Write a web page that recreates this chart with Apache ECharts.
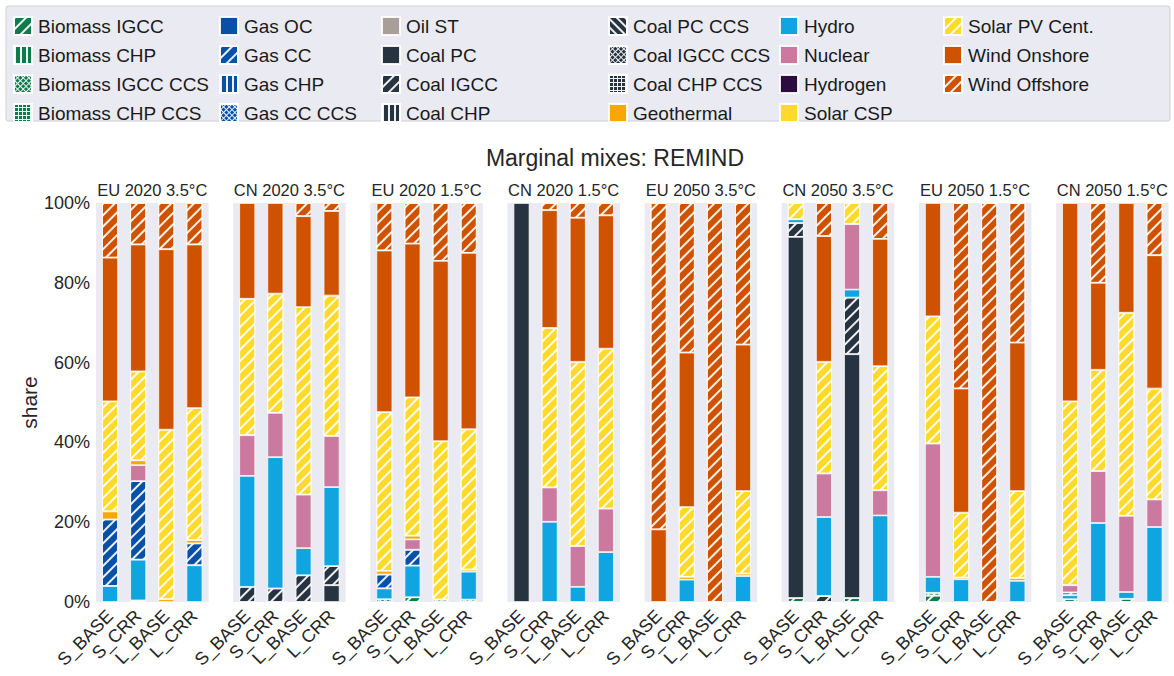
<!DOCTYPE html>
<html><head><meta charset="utf-8">
<script src="https://cdn.jsdelivr.net/npm/echarts@6/dist/echarts.min.js"></script>
<style>html,body{margin:0;padding:0;background:#fff}#c{width:1174px;height:676px}</style>
</head><body><div id="c"></div>
<script>
// ---------------- DATA ----------------
const panels = ['EU 2020 3.5°C','CN 2020 3.5°C','EU 2020 1.5°C','CN 2020 1.5°C','EU 2050 3.5°C','CN 2050 3.5°C','EU 2050 1.5°C','CN 2050 1.5°C'];
const scenarios = ['S_BASE','S_CRR','L_BASE','L_CRR'];
const yTicks = [0, 20, 40, 60, 80, 100];
const chartTitle = 'Marginal mixes: REMIND';
// shares in %, 4 values per panel (S_BASE, S_CRR, L_BASE, L_CRR), panels in the order above
const biomassIGCC    = [0,0,0,0,  0,0,0,0,  0,1.2,0,0,  0,0,0,0,  0,0,0,0,  1.0,0,1.0,0,  1.6,0,0,0,  0.7,0,0.8,0];
const biomassCHP     = [];
const biomassIGCCCCS = [0,0.4,0,0,  0,0,0,0,  0.7,0,0.6,0.6,  0,0,0,0,  0,0,0,0,  0,0,0,0,  0.7,0,0,0,  0,0,0,0];
const biomassCHPCCS  = [];
const coalPC         = [0,0,0,0,  0,0,0,4.2,  0,0,0,0,  100,0,0,0,  0,0,0,0,  90.5,0,61.1,0,  0,0,0,0,  0,0,0,0];
const coalIGCC       = [0,0,0,0,  3.8,3.4,6.7,4.8,  0,0,0,0,  0,0,0,0,  0,0,0,0,  3.5,1.5,14.2,0,  0,0,0,0,  0,0,0,0];
const coalCHP        = [];
const coalPCCCS      = [];
const coalIGCCCCS    = [];
const coalCHPCCS     = [];
const oilST          = [];
const hydro          = [4.0,10.2,0,9.2,  27.8,32.9,6.8,19.8,  2.7,7.9,0,7.0,  0,20.1,3.8,12.5,  0,5.6,0,6.5,  0.9,19.8,2.0,21.7,  4.0,5.7,0,5.3,  1.0,19.8,1.7,18.8];
const gasOC          = [];
const gasCC          = [16.7,19.7,0,5.5,  0,0,0,0,  3.5,4.0,0,0,  0,0,0,0,  0,0,0,0,  0,0,0,0,  0,0,0,0,  0.7,0,0,0];
const gasCHP         = [];
const gasCCCCS       = [];
const nuclear        = [0,4.0,0,0,  10.2,11.1,13.4,12.8,  0,2.6,0,0,  0,8.6,10.2,10.9,  0,0,0,0,  0,10.9,16.4,6.3,  33.4,0,0,0,  1.8,13.0,19.1,6.9];
const hydrogen       = [];
const geothermal     = [2.0,1.2,0.7,0.8,  0,0,0,0,  0.9,0.9,0,0.5,  0,0,0,0,  0,0.7,0,0.6,  0,0,0,0,  0,0.4,0,0.7,  0,0,0,0];
const solarCSP       = [];
const solarPV        = [27.6,22.3,42.5,33.1,  34.2,29.9,47.0,35.2,  39.8,34.7,39.7,35.2,  0,40.0,46.2,40.1,  0,17.5,0,20.7,  4.1,28.0,5.3,31.1,  31.9,16.3,0,21.8,  46.1,25.4,50.9,27.8];
const windOnshore    = [36.0,31.8,45.2,41.0,  24.0,22.7,22.8,21.2,  40.5,38.5,45.2,44.2,  0,29.5,36.1,33.4,  18.2,38.7,0,36.7,  0,31.5,0,31.9,  28.4,31.1,0,37.2,  49.7,21.8,27.5,33.4];
const windOffshore   = [13.7,10.4,11.6,10.4,  0,0,3.3,2.0,  11.9,10.2,14.5,12.5,  0,1.8,3.7,3.1,  81.8,37.5,100,35.5,  0,8.3,0,9.0,  0,46.5,100,35.0,  0,20.0,0,13.1];

// legend columns
const legendCols = [
  ['Biomass IGCC','Biomass CHP','Biomass IGCC CCS','Biomass CHP CCS'],
  ['Gas OC','Gas CC','Gas CHP','Gas CC CCS'],
  ['Oil ST','Coal PC','Coal IGCC','Coal CHP'],
  ['Coal PC CCS','Coal IGCC CCS','Coal CHP CCS','Geothermal'],
  ['Hydro','Nuclear','Hydrogen','Solar CSP'],
  ['Solar PV Cent.','Wind Onshore','Wind Offshore']
];

// ---------------- STYLE ----------------
const C = {bio:'#0f7a4c', gas:'#0651a5', oil:'#a89f9b', coal:'#263340', geo:'#f6a800', hydro:'#10a5e0',
  nuc:'#cc79a0', h2:'#2c0b3e', csp:'#ffda2b', pv:'#ffda2b', wind:'#cf5200'};
const W = 'rgba(255,255,255,0.92)';
function hatch(kind){
  if(kind==='/')  return {symbol:'rect',symbolSize:1,dashArrayX:[1,0],dashArrayY:[1.3,5.1],rotation:-Math.PI/4,color:W};
  if(kind==='\\') return {symbol:'rect',symbolSize:1,dashArrayX:[1,0],dashArrayY:[1.3,3.2],rotation:Math.PI/4,color:W};
  if(kind==='|')  return {symbol:'rect',symbolSize:1,dashArrayX:[1.2,3.3],dashArrayY:[1,0],rotation:0,color:W};
  if(kind==='x')  return {symbol:'rect',symbolSize:1,dashArrayX:[[4,0],[1,3],[1,3],[1,3]],dashArrayY:[1,0],rotation:Math.PI/4,color:W};
  if(kind==='+')  return {symbol:'rect',symbolSize:1,dashArrayX:[[4,0],[1,3],[1,3],[1,3]],dashArrayY:[1,0],rotation:0,color:W};
  return null;
}
// stacking order bottom -> top
const techs = [
  {name:'Biomass IGCC', data:biomassIGCC, color:C.bio, h:'/'},
  {name:'Biomass CHP', data:biomassCHP, color:C.bio, h:'|'},
  {name:'Biomass IGCC CCS', data:biomassIGCCCCS, color:C.bio, h:'x'},
  {name:'Biomass CHP CCS', data:biomassCHPCCS, color:C.bio, h:'+'},
  {name:'Coal PC', data:coalPC, color:C.coal, h:null},
  {name:'Coal IGCC', data:coalIGCC, color:C.coal, h:'/'},
  {name:'Coal CHP', data:coalCHP, color:C.coal, h:'|'},
  {name:'Coal PC CCS', data:coalPCCCS, color:C.coal, h:'\\'},
  {name:'Coal IGCC CCS', data:coalIGCCCCS, color:C.coal, h:'x'},
  {name:'Coal CHP CCS', data:coalCHPCCS, color:C.coal, h:'+'},
  {name:'Oil ST', data:oilST, color:C.oil, h:null},
  {name:'Hydro', data:hydro, color:C.hydro, h:null},
  {name:'Gas OC', data:gasOC, color:C.gas, h:null},
  {name:'Gas CC', data:gasCC, color:C.gas, h:'/'},
  {name:'Gas CHP', data:gasCHP, color:C.gas, h:'|'},
  {name:'Gas CC CCS', data:gasCCCCS, color:C.gas, h:'x'},
  {name:'Nuclear', data:nuclear, color:C.nuc, h:null},
  {name:'Hydrogen', data:hydrogen, color:C.h2, h:null},
  {name:'Geothermal', data:geothermal, color:C.geo, h:null},
  {name:'Solar CSP', data:solarCSP, color:C.csp, h:null},
  {name:'Solar PV Cent.', data:solarPV, color:C.pv, h:'/'},
  {name:'Wind Onshore', data:windOnshore, color:C.wind, h:null},
  {name:'Wind Offshore', data:windOffshore, color:C.wind, h:'/'}
];

const FONT = 'Liberation Sans';
const GL = 96, GSTEP = 137.15, GW = 112.5, GT = 203, GH = 399;

const grids = [], xAxes = [], yAxes = [], series = [], graphics = [];
graphics.push({type:'rect', z:-1, shape:{x:6,y:6,width:1164,height:115,r:2}, style:{fill:'#eaeaf2', stroke:'#cfcfd4', lineWidth:1}});
graphics.push({type:'text', x:615, y:158, style:{text:chartTitle, font:'23px "'+FONT+'"', fill:'#262626', align:'center', verticalAlign:'middle', textAlign:'center', textVerticalAlign:'middle'}});

panels.forEach((p, i) => {
  const left = GL + i*GSTEP;
  grids.push({left:left, top:GT, width:GW, height:GH, show:true, backgroundColor:'#eaeaf2', borderWidth:0, containLabel:false});
  xAxes.push({type:'category', gridIndex:i, data:scenarios, axisLine:{show:false}, axisTick:{show:false},
    axisLabel:{rotate:45, interval:0, fontSize:18, fontFamily:FONT, color:'#262626', margin:11}});
  yAxes.push({type:'value', gridIndex:i, min:yTicks[0], max:yTicks[yTicks.length-1], interval:yTicks[1]-yTicks[0],
    splitLine:{show:false}, axisLine:{show:false}, axisTick:{show:false},
    axisLabel:{show:i===0, formatter:'{value}%', fontSize:18, fontFamily:FONT, color:'#262626', margin:6},
    name: i===0 ? 'share' : '', nameLocation:'middle', nameGap:56, nameRotate:90,
    nameTextStyle:{fontSize:21, fontFamily:FONT, color:'#262626'}});
  graphics.push({type:'text', x:left+GW/2, y:190, style:{text:p, font:'16.5px "'+FONT+'"', fill:'#262626', align:'center', verticalAlign:'middle', textAlign:'center', textVerticalAlign:'middle'}});
  techs.forEach(t => {
    const vals = t.data.slice(i*4, i*4+4).map(v => v > 0 ? v : null);
    const st = {color:t.color, borderColor:'rgba(255,255,255,0.9)', borderWidth:0.8};
    const d = hatch(t.h);
    if (d) st.decal = d;
    series.push({type:'bar', name:t.name, xAxisIndex:i, yAxisIndex:i, stack:'s'+i, barWidth:16,
      data:vals, itemStyle:st, emphasis:{disabled:true}, animation:false});
  });
});

const legendX = [13, 219, 381, 608, 779, 943];
const legends = legendCols.map((col, k) => ({
  orient:'vertical', left:legendX[k], top:16, padding:0, itemWidth:18, itemHeight:18, itemGap:9,
  icon:'rect', selectedMode:false, data:col,
  textStyle:{fontSize:19, fontFamily:FONT, color:'#1a1a1a', padding:[0,0,0,1]}
}));

const chart = echarts.init(document.getElementById('c'), null, {renderer:'svg', width:1174, height:676});
chart.setOption({
  backgroundColor:'#ffffff', animation:false,
  textStyle:{fontFamily:FONT},
  grid:grids, xAxis:xAxes, yAxis:yAxes, series:series, legend:legends, graphic:graphics
});
</script></body></html>
